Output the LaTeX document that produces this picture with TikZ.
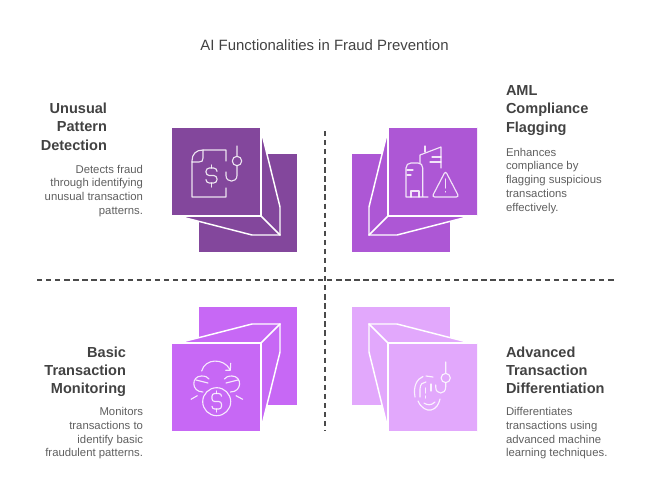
\documentclass[tikz,border=0pt]{standalone}
\usepackage{fontspec}
\setmainfont{Liberation Sans}
\definecolor{titlegray}{HTML}{424242}
\definecolor{bodygray}{HTML}{5F5F5F}
\definecolor{dashgray}{HTML}{4A4A4A}
\definecolor{panelA}{HTML}{83479C}
\definecolor{panelB}{HTML}{AD57D5}
\definecolor{panelC}{HTML}{C768F5}
\definecolor{panelD}{HTML}{E2A8FC}
\begin{document}
\begin{tikzpicture}[x=0.75pt, y=-0.75pt, line join=miter,
	headtext/.style={font=\bfseries\fontsize{10.9}{13.8}\selectfont, text=titlegray, inner sep=0pt, outer sep=0pt},
	desctext/.style={font=\fontsize{8.5}{10.3}\selectfont, text=bodygray, inner sep=0pt, outer sep=0pt},
	foldline/.style={draw=white, line width=1.1pt, line cap=round},
	iconline/.style={draw=white, draw opacity=0.85, line width=0.85pt, line cap=round, line join=round},
	gridline/.style={draw=dashgray, line width=0.85pt, dash pattern=on 4pt off 2.8pt}]
	\useasboundingbox (0, 0) rectangle (650, 497);

	\node[font=\fontsize{11.2}{13}\selectfont, text=titlegray, inner sep=0pt] (title) at (324.5, 45.5) {AI Functionalities in Fraud Prevention};

	% the four folded squares, one shape mirrored
	\foreach \ox/\oy/\sx/\sy/\panelcol in {0/0/1/1/panelA, 649/0/-1/1/panelB, 0/559/1/-1/panelC, 649/559/-1/-1/panelD} {
		\begin{scope}[shift={(\ox, \oy)}, xscale=\sx, yscale=\sy]
			\fill[\panelcol] (199, 154) rectangle (297, 252);
			\fill[\panelcol] (172, 127) -- (261, 127) -- (262, 134) -- (280, 207) -- (280, 235) -- (252, 235) -- (178, 216) -- (172, 216) -- cycle;
			\draw[foldline] (172, 216) -- (261, 216) -- (261, 127) -- (172, 127);
			\draw[foldline] (262, 134) -- (280, 207) -- (280, 235) -- (252, 235) -- (178, 216);
			\draw[foldline] (261, 216) -- (280, 235);
		\end{scope}
	}

	% document and hook
	\draw[iconline] (226, 161) -- (226, 150) -- (203, 150) .. controls (196, 150) and (192, 154) .. (192, 161) -- (192, 197) -- (226, 197) -- (226, 188);
	\draw[iconline] (203, 150) -- (203, 158) .. controls (203, 161) and (202, 162) .. (199, 162) -- (192, 162);
	\draw[iconline, rounded corners=2.5] (217, 171) -- (217, 168) -- (206, 168) -- (206, 175.5) -- (217, 175.5) -- (217, 183) -- (206, 183) -- (206, 180);
	\draw[iconline] (211.5, 165) -- (211.5, 168) (211.5, 183) -- (211.5, 187);
	\draw[iconline] (237, 146) -- (237, 156) (237, 161) circle[radius=4.7];
	\draw[iconline] (237, 165.7) -- (237, 175.5) .. controls (237, 183) and (226, 183) .. (226, 175.5) -- (226, 172);

	% buildings and warning sign
	\draw[iconline] (411, 197) -- (411, 191) -- (419, 191) -- (419, 197);
	\draw[iconline] (428, 197) -- (406, 197) -- (406, 168) .. controls (406, 165) and (408, 163) .. (411, 163) -- (418, 163) .. controls (421, 163) and (422.7, 165) .. (422.7, 168) -- (422.7, 197);
	\draw[iconline] (407, 170) -- (413, 170) (407, 175) -- (411, 175);
	\draw[iconline] (420, 163) -- (420, 155) -- (441, 147) -- (441, 168);
	\draw[iconline] (425, 146) -- (425, 152);
	\draw[iconline] (432, 157) -- (441, 157) (430, 162) -- (441, 162);
	\draw[iconline, rounded corners=2] (445.5, 171) -- (432, 197) -- (459, 197) -- cycle;
	\draw[iconline] (445.5, 179) -- (445.5, 188) (445.5, 191.5) -- (445.5, 192);

	% coins with arrow
	\draw[iconline] (216.7, 401.7) circle[radius=14];
	\draw[iconline, rounded corners=2] (221.5, 396) -- (221.5, 393.5) -- (212, 393.5) -- (212, 401.5) -- (221.5, 401.5) -- (221.5, 409) -- (212, 409) -- (212, 406.5);
	\draw[iconline] (216.7, 391) -- (216.7, 393.5) (216.7, 409) -- (216.7, 412);
	\draw[iconline] (201.7, 371) .. controls (205, 358) and (224, 358) .. (230, 369.5);
	\draw[iconline] (225.7, 370.3) -- (230.3, 370.3) -- (230.7, 363.3);
	\draw[iconline] (203, 392) .. controls (191, 392) and (191, 376) .. (201.5, 376) .. controls (205, 376) and (208, 377) .. (209, 379);
	\draw[iconline] (196, 380) -- (208, 383);
	\draw[iconline] (230.4, 392) .. controls (242.4, 392) and (242.4, 376) .. (231.9, 376) .. controls (228.4, 376) and (225.4, 377) .. (224.4, 379);
	\draw[iconline] (238, 380) -- (226, 383);
	\draw[iconline] (191, 399.3) -- (197.3, 395.7) (236, 395.7) -- (242.7, 399.3);

	% fingerprint and hook
	\draw[iconline] (445.7, 362) -- (445.7, 373) (445.7, 378) circle[radius=4.6];
	\draw[iconline] (445.7, 382.6) -- (445.7, 387) .. controls (445.7, 395) and (435.7, 395) .. (435.7, 387) -- (435.7, 385);
	\draw[iconline] (415, 397) .. controls (413, 386) and (417, 379) .. (423, 376.5);
	\draw[iconline] (426, 376) -- (433, 377);
	\draw[iconline] (420, 397) -- (420, 389) .. controls (420, 384) and (423, 382) .. (426, 382);
	\draw[iconline] (425.5, 388) -- (425.5, 393) (425.5, 396) -- (425.5, 398);
	\draw[iconline] (431, 384) -- (431, 391);
	\draw[iconline] (418, 401) .. controls (421, 408) and (427, 411) .. (431, 410) .. controls (436, 409) and (439, 404) .. (440, 399);
	\draw[iconline] (424, 403) .. controls (427, 405) and (431, 406) .. (435, 402);

	% dashed cross
	\coordinate (crossTop) at (325, 131);
	\coordinate (crossBottom) at (325, 431);
	\coordinate (crossLeft) at (37, 280);
	\coordinate (crossRight) at (615, 280);
	\draw[gridline] (crossTop) -- (crossBottom);
	\draw[gridline] (crossLeft) -- (crossRight);

	% labels
	\node[headtext, align=right, anchor=north east] (headUnusual) at (107, 103) {Unusual\\Pattern\\Detection};
	\node[desctext, align=right, anchor=north east] (descUnusual) at (143, 165) {Detects fraud\\through identifying\\unusual transaction\\patterns.};
	\node[headtext, align=left, anchor=north west] (headAml) at (506, 85.5) {AML\\Compliance\\Flagging};
	\node[desctext, align=left, anchor=north west] (descAml) at (506, 148) {Enhances\\compliance by\\flagging suspicious\\transactions\\effectively.};
	\node[headtext, align=right, anchor=north east] (headBasic) at (126, 346.5) {Basic\\Transaction\\Monitoring};
	\node[desctext, align=right, anchor=north east] (descBasic) at (143, 407.5) {Monitors\\transactions to\\identify basic\\fraudulent patterns.};
	\node[headtext, align=left, anchor=north west] (headAdvanced) at (506, 346.5) {Advanced\\Transaction\\Differentiation};
	\node[desctext, align=left, anchor=north west] (descAdvanced) at (506, 407.5) {Differentiates\\transactions using\\advanced machine\\learning techniques.};
\end{tikzpicture}
\end{document}
